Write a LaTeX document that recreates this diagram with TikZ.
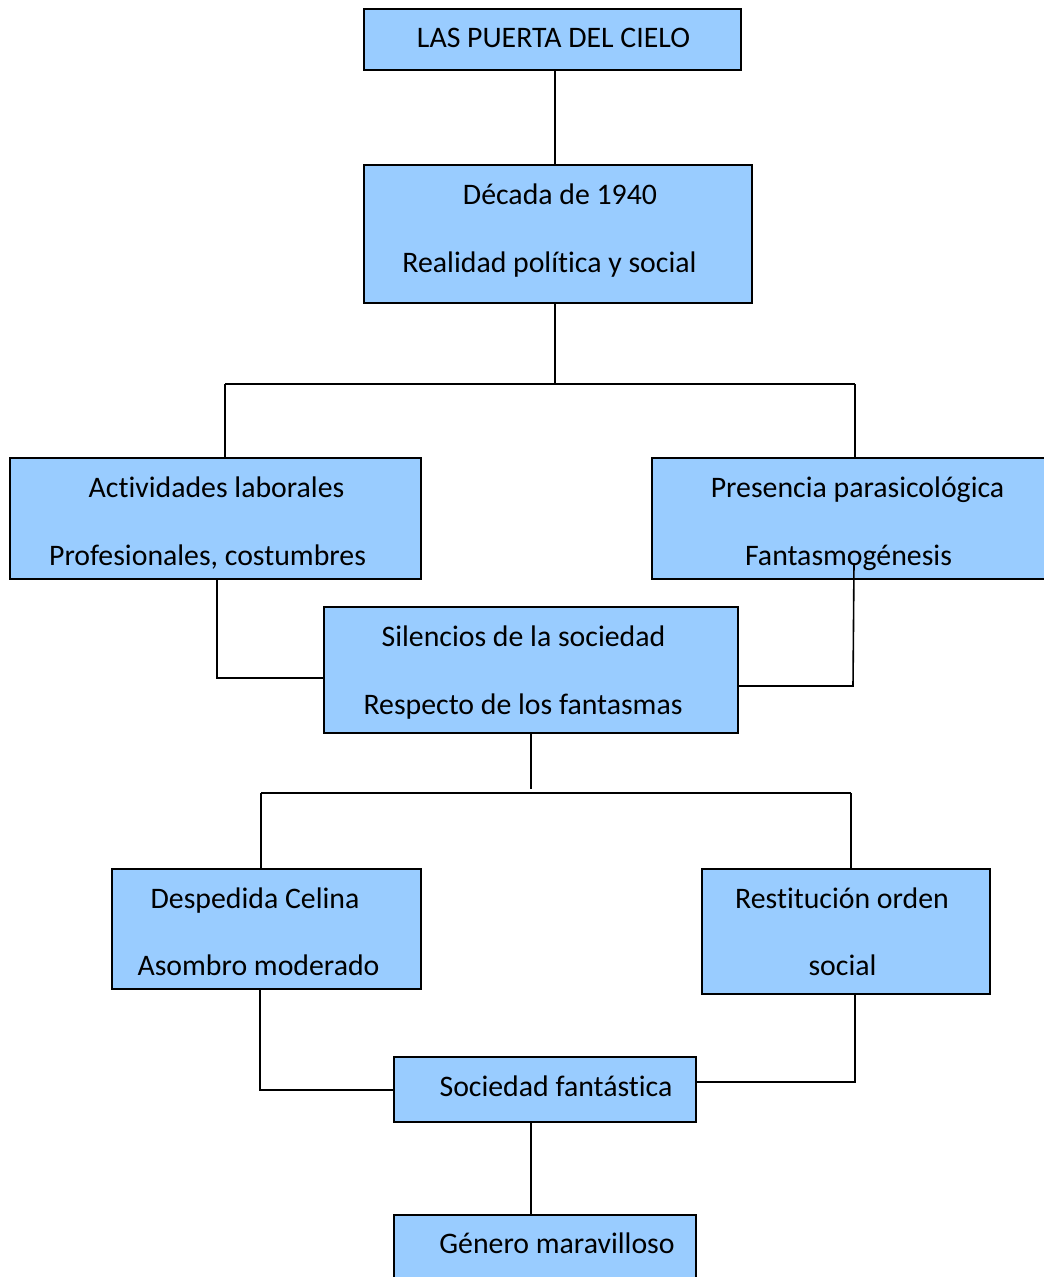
\documentclass[tikz,border=0pt]{standalone}
\usepackage{fontspec}
\setmainfont{Carlito}[Ligatures=NoCommon]
\begin{document}
\begin{tikzpicture}[x=1pt,y=-1pt,
  box/.style={draw=black, line width=1.6pt, fill=boxblue, rectangle,
    inner sep=0pt, outer sep=0pt},
  txt/.style={anchor=base, inner sep=0pt, font=\fontsize{29.8}{36}\selectfont},
  link/.style={draw=black, line width=1.6pt}]
\definecolor{boxblue}{HTML}{99CCFF}
\useasboundingbox (0,0) rectangle (1044,1277);
\clip (0,0) rectangle (1044,1277);

% boxes
\node[box, minimum width=377pt, minimum height=61pt]  (b1) at (552.5,39.5) {};
\node[box, minimum width=388pt, minimum height=138pt] (b2) at (558,234) {};
\node[box, minimum width=411pt, minimum height=121pt] (b3) at (215.5,518.5) {};
\node[box, minimum width=398pt, minimum height=121pt] (b4) at (851,518.5) {};
\node[box, minimum width=414pt, minimum height=126pt] (b5) at (531,670) {};
\node[box, minimum width=309pt, minimum height=120pt] (b6) at (266.5,929) {};
\node[box, minimum width=288pt, minimum height=125pt] (b7) at (846,931.5) {};
\node[box, minimum width=302pt, minimum height=65pt]  (b8) at (545,1089.5) {};
\node[box, minimum width=302pt, minimum height=75pt]  (b9) at (545,1252.5) {};

% texts
\node[txt] (t1)  at (553.5,47)  {LAS PUERTA DEL CIELO};
\node[txt] (t2a) at (560,204)   {Década de 1940};
\node[txt] (t2b) at (549.5,272) {Realidad política y social};
\node[txt] (t3a) at (216.5,497) {Actividades laborales};
\node[txt] (t3b) at (207.5,565) {Profesionales, costumbres};
\node[txt] (t4a) at (857.5,497) {Presencia parasicológica};
\node[txt] (t4b) at (848.5,565) {Fantasmogénesis};
\node[txt] (t5a) at (523.5,646) {Silencios de la sociedad};
\node[txt] (t5b) at (523,714)   {Respecto de los fantasmas};
\node[txt] (t6a) at (255,908)   {Despedida Celina};
\node[txt] (t6b) at (258.5,975) {Asombro moderado};
\node[txt] (t7a) at (842,908)   {Restitución orden};
\node[txt] (t7b) at (842.5,975) {social};
\node[txt] (t8)  at (556,1096)  {Sociedad fantástica};
\node[txt] (t9)  at (557,1253)  {Género maravilloso};

% junction points
\coordinate (j1)  at (555,384);
\coordinate (j1l) at (225,384);
\coordinate (j1r) at (855,384);
\coordinate (c3)  at (217,678);
\coordinate (c4t) at (854,563);
\coordinate (c4)  at (853,686);
\coordinate (j2)  at (531,789);
\coordinate (j2l) at (261,793);
\coordinate (j2r) at (851,793);
\coordinate (c6)  at (260,1090);
\coordinate (c7)  at (855,1082);

% connectors
\draw[link] (b1.south -| j1) -- (j1 |- b2.north);
\draw[link] (b2.south -| j1) -- (j1);
\draw[link] (j1l) -- (j1r);
\draw[link] (j1l) -- (j1l |- b3.north);
\draw[link] (j1r) -- (j1r |- b4.north);
\draw[link] (c3 |- b3.south) -- (c3) -- (c3 -| b5.west);
\draw[link] (c4t) -- (c4) -- (c4 -| b5.east);
\draw[link] (b5.south -| j2) -- (j2);
\draw[link] (j2l) -- (j2r);
\draw[link] (j2l) -- (j2l |- b6.north);
\draw[link] (j2r) -- (j2r |- b7.north);
\draw[link] (c6 |- b6.south) -- (c6) -- (c6 -| b8.west);
\draw[link] (c7 |- b7.south) -- (c7) -- (c7 -| b8.east);
\draw[link] (b8.south -| j2) -- (j2 |- b9.north);
\end{tikzpicture}
\end{document}
